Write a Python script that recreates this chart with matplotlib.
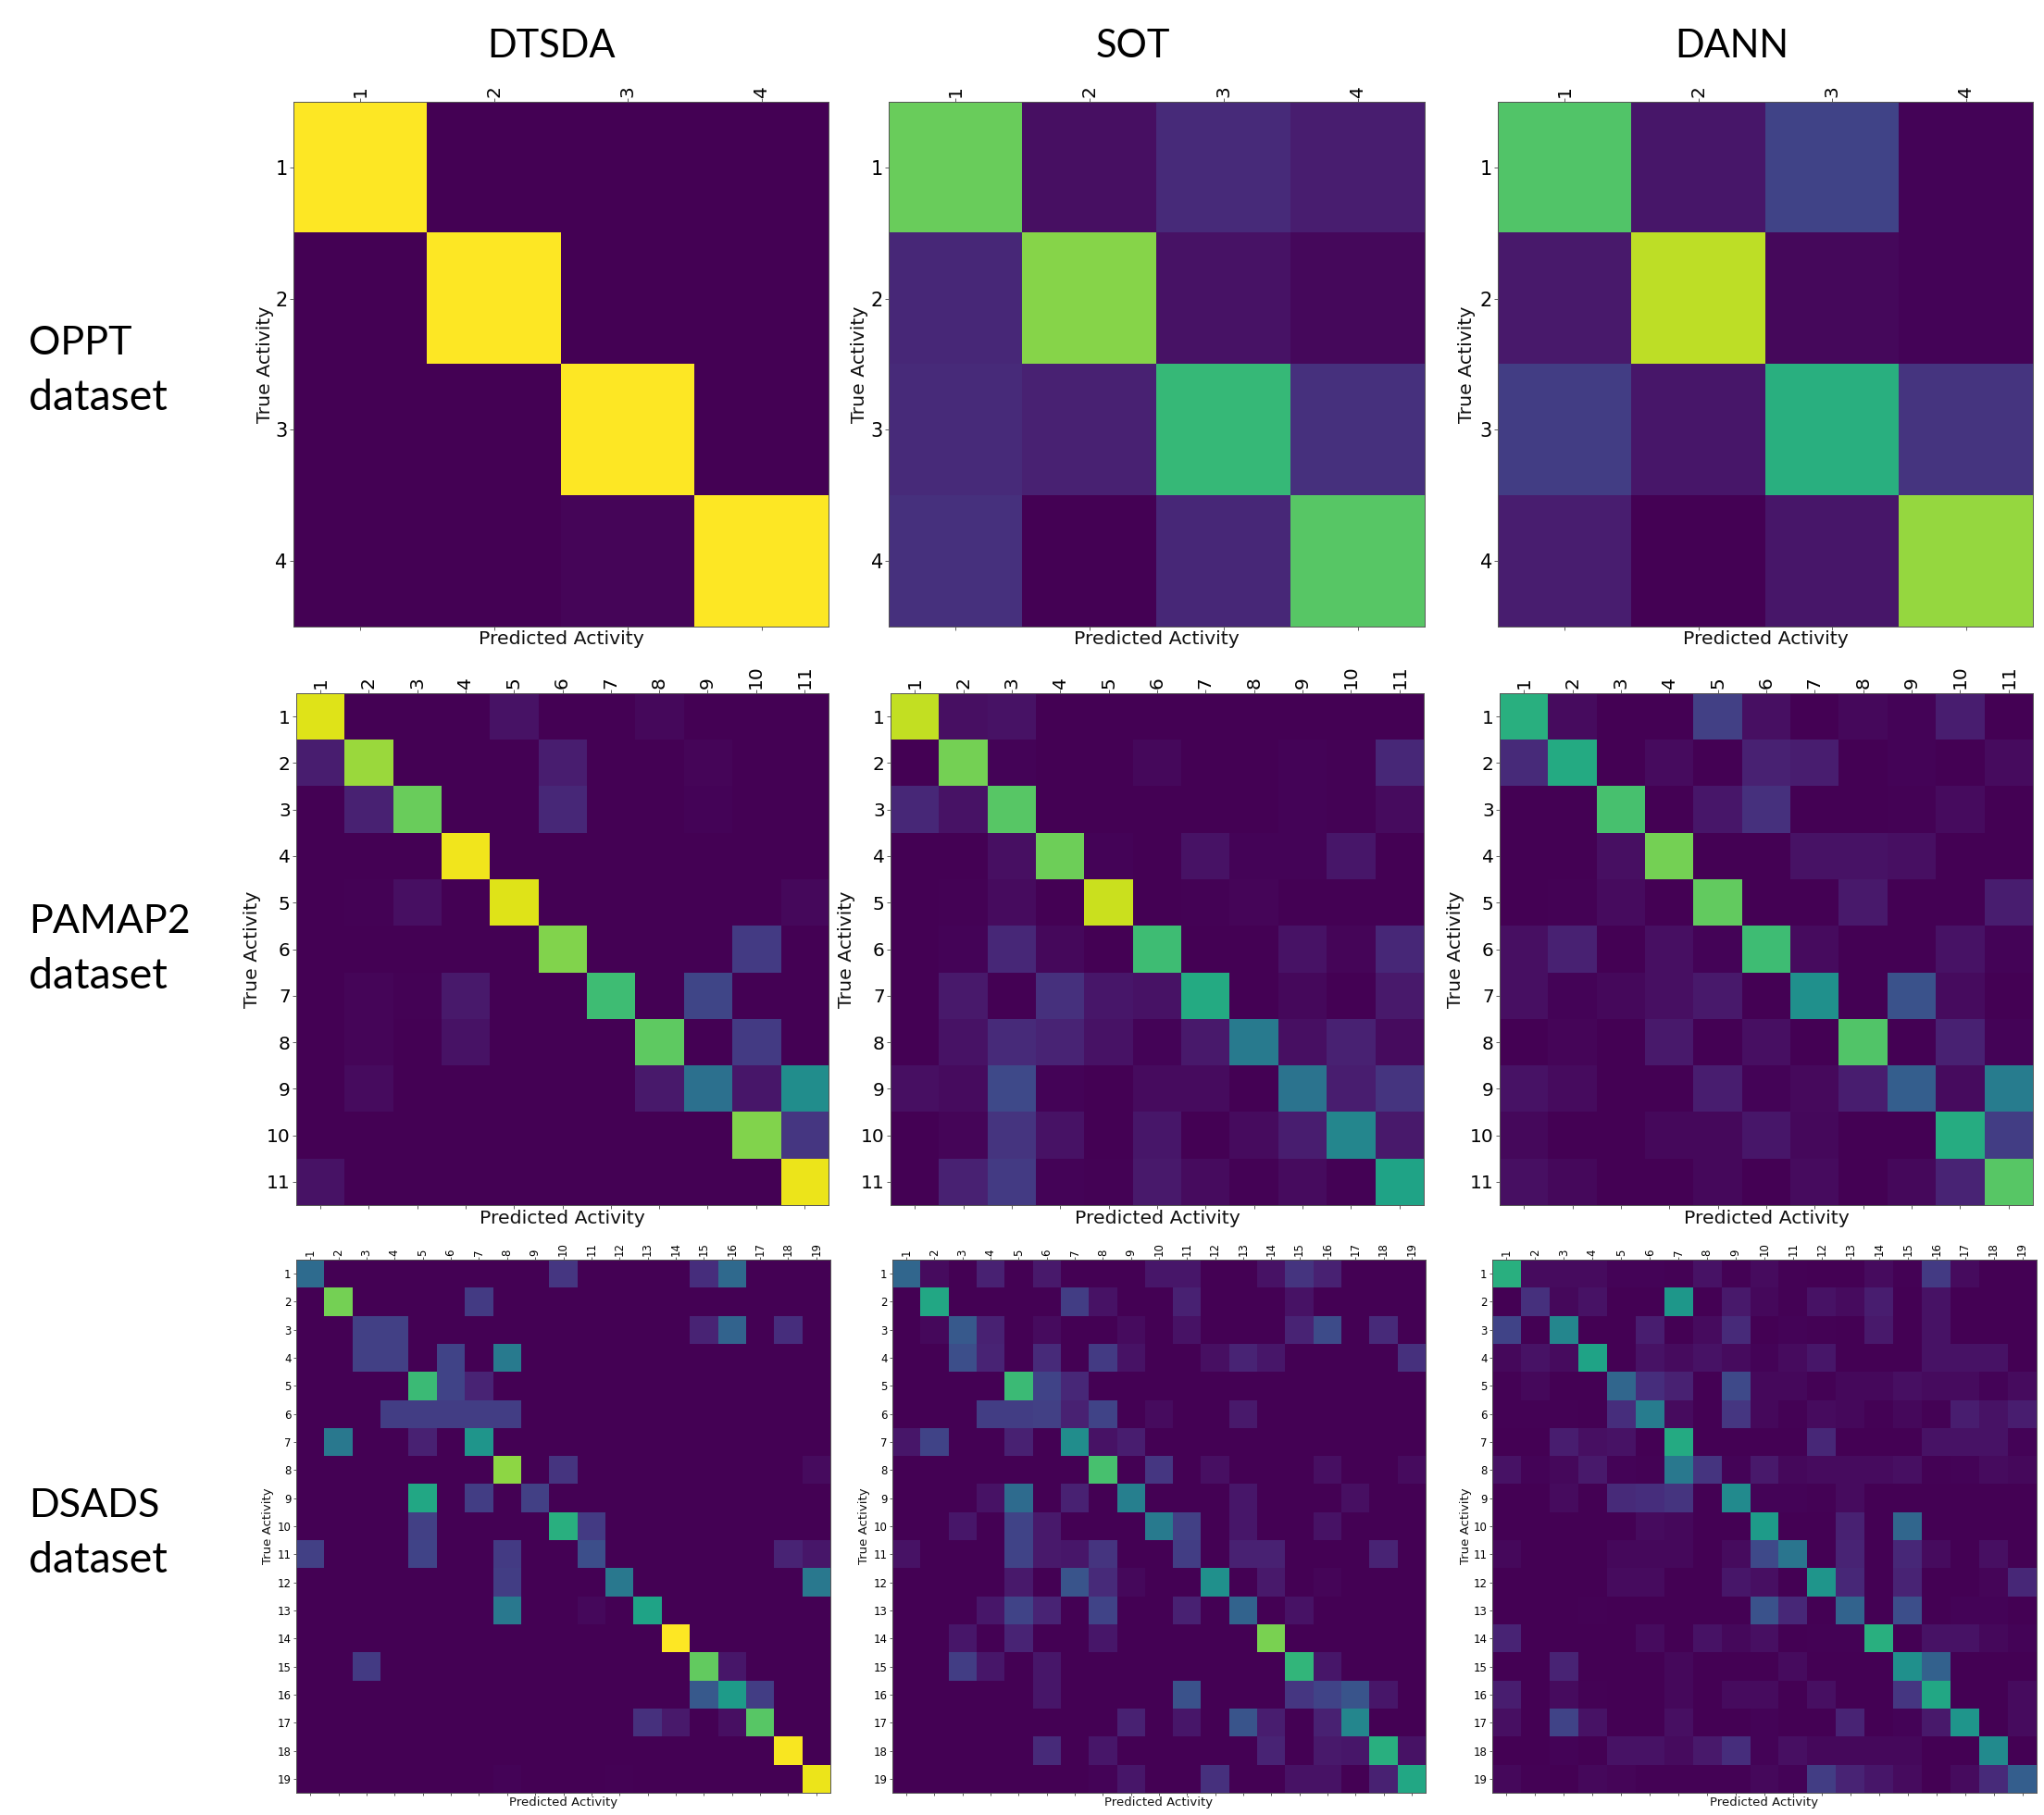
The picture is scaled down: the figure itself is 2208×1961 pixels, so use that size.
import matplotlib
matplotlib.use("Agg")
import matplotlib.pyplot as plt
import numpy as np

methods = ["DTSDA", "SOT", "DANN"]
datasets = ["OPPT\ndataset", "PAMAP2\ndataset", "DSADS\ndataset"]
x_label = "Predicted Activity"
y_label = "True Activity"

# values in percent, read by colour from the picture
oppt_dtsda = [[100, 0, 0, 0], [0, 100, 0, 0], [0, 0, 100, 0], [0, 0, 1.5, 100]]
oppt_sot = [[77, 4, 12, 8], [11, 82, 5, 2], [12, 9, 67, 14], [14, 0, 11, 74]]
oppt_dann = [[73, 6, 20, 1], [7, 90, 2, 1], [18, 6, 63, 15], [8, 0, 6, 84]]

pamap_dtsda = [
    [95, 0, 0, 0, 5, 0, 0, 2, 0, 0, 0],
    [8, 85, 0, 0, 0, 8, 0, 0, 1.5, 0, 0],
    [0, 9, 77, 0, 0, 11, 0, 0, 1, 0, 0],
    [0, 0, 0, 98, 0, 0, 0, 0.3, 0.3, 0, 0],
    [0, 0.5, 4, 0, 95, 0, 0, 0, 0, 0, 2],
    [0, 0, 0, 0, 0, 81, 0, 0, 0, 17, 0],
    [0, 1.5, 0.5, 7, 0, 0, 69, 0, 21, 0, 0],
    [0, 1.5, 0, 5, 0, 0, 0, 75, 0, 17, 0],
    [0, 3, 0, 0, 0, 0, 0, 7, 37, 6, 49],
    [0, 0, 0, 0, 0, 0, 0, 0, 0, 81, 16],
    [5, 0, 0, 0, 0, 0, 0, 0, 0, 0, 97],
]
pamap_sot = [
    [91, 4, 5, 0, 0, 0, 0, 0, 0, 0, 0],
    [0, 79, 1, 0, 0, 2, 0, 0, 1, 0.5, 11],
    [11, 5, 74, 0, 0, 0, 0, 0, 1, 0.5, 3],
    [0, 0, 4, 78, 1, 0, 5, 1, 1, 6, 0],
    [0, 0.5, 3, 0, 92, 0, 0.5, 1.5, 0, 0, 0],
    [0, 1, 11, 2, 0, 69, 0, 0, 5, 1.5, 11],
    [0, 7, 0, 14, 6, 5, 61, 0, 2, 0, 7],
    [0, 5, 12, 10, 5, 1, 7, 41, 4, 9, 3],
    [4, 3, 22, 1, 0, 3, 3, 0, 38, 8, 15],
    [0, 1.5, 15, 5, 0, 6, 0, 3, 8, 46, 7],
    [0, 9, 17, 1, 0.5, 7, 3, 0.5, 3, 0.5, 58],
]
pamap_dann = [
    [63, 3, 0, 0, 19, 4, 0, 2, 1, 8, 0],
    [12, 61, 0, 3, 0, 9, 8, 0, 1, 0, 3],
    [0, 0, 71, 0, 6, 14, 0, 0, 0.5, 3, 0],
    [0, 0, 4, 79, 0, 0, 5, 5, 4, 0, 0],
    [0, 0.5, 3, 0, 76, 0, 0, 7, 0, 0, 8],
    [4, 9, 0, 4, 1, 69, 3, 0, 0, 5, 1],
    [4, 1, 2, 4, 7, 0, 50, 0, 25, 3, 0],
    [0, 1.5, 0, 7, 0, 4, 0, 73, 0, 9, 1],
    [5, 3, 0, 0, 8, 1, 2.5, 8, 30, 3, 42],
    [2, 0, 0, 2, 2, 6, 2, 0, 0, 62, 18],
    [4, 2, 0, 0, 2, 0, 3, 0, 2, 10, 74],
]

dsads_dtsda = [
    [35, 0, 0, 0, 0, 0, 0, 0, 0, 16, 0, 0, 0, 0, 13, 34, 0, 0, 0],
    [0, 79, 0, 0, 0, 0, 17, 0, 0, 0, 0, 0, 0, 0, 0, 0, 0, 0, 0],
    [0, 0, 19, 19, 0, 0, 0, 0, 0, 0, 0, 0, 0, 0, 10, 32, 0, 13, 0],
    [0, 0, 19, 19, 0, 20, 0, 41, 0, 0, 0, 0, 0, 0, 0, 0, 0, 0, 0],
    [0, 0, 0, 0, 68, 20, 10, 0.3, 0, 0, 0, 0, 0, 0, 0, 0, 0, 0, 0],
    [0, 0, 0, 18, 18, 18, 18, 18, 0, 0, 0, 0, 0, 0, 0, 0, 0, 0, 0],
    [0, 40, 0, 0, 9, 0, 52, 0, 0, 0, 0, 0, 0, 0, 0, 0, 0, 0, 0],
    [0, 0, 0, 0, 0, 0, 0, 83, 0, 15, 0, 0, 0, 0, 0, 0, 0, 0, 3],
    [0, 0, 0, 0, 60, 0, 18, 0, 19, 0, 0, 0, 0, 0, 0, 0, 0, 0, 0],
    [0, 0, 0, 0, 19, 0, 0, 0, 0, 63, 17, 0, 0, 0, 0, 0, 0, 0, 0],
    [19, 0, 0, 0, 20, 0, 0, 17, 0, 0, 24, 0, 0, 0, 0, 0, 0, 10, 6],
    [0, 0, 0, 0, 0, 0, 0, 18, 0, 0, 0, 40, 0, 0, 0, 0, 0, 0, 40],
    [0, 0, 0, 0, 0, 0, 0, 40, 0, 0, 2, 0, 58, 0, 0, 0, 0, 0, 0],
    [0, 0, 0, 0, 0, 0, 0, 0, 0, 0, 0, 0, 0, 100, 0, 0, 0, 0, 0],
    [0, 0, 17, 0, 0, 0, 0, 0, 0, 0, 0, 0, 0, 0, 76, 6, 0, 0, 0],
    [0, 0, 0, 0, 0, 0, 0, 0, 0, 0, 0, 0, 0, 0, 28, 55, 18, 0, 0],
    [0, 0, 0, 0, 0, 0, 0, 0, 0, 0, 0, 0, 14, 7, 0, 4, 74, 0, 0],
    [0, 0, 0, 0, 0, 0, 0, 0, 0, 0, 0, 0, 0, 0, 0, 0, 0, 99, 0],
    [0, 0, 0, 0, 0, 0.3, 0, 1, 0.3, 0, 0, 0.5, 0, 0, 0, 0, 0, 0, 97],
]
dsads_sot = [
    [33, 3, 0, 9, 0, 7, 0, 0, 0, 6, 6, 0, 0, 5, 15, 9, 0, 0, 0],
    [0, 60, 0, 0, 0, 0, 18, 5, 0, 0, 9, 0, 0, 0, 5, 0, 0, 0, 0],
    [0, 2, 28, 9, 0, 3, 0, 0, 3, 0, 5, 0, 0, 0, 10, 23, 0, 12, 0],
    [0, 0, 24, 10, 0, 12, 0, 17, 5, 0, 0, 4, 10, 6, 0, 0, 0, 0, 14],
    [0, 0, 0, 0, 68, 20, 11, 0, 0, 0, 0, 0, 0, 0, 0, 0, 0, 0, 0],
    [0, 0, 0, 18, 18, 19, 9, 20, 0, 3, 0, 0, 7, 0, 0, 0, 0, 0, 0],
    [6, 20, 0, 0, 9, 0, 49, 5, 8, 0, 0, 0, 0, 0, 0, 0, 0, 0, 0],
    [0, 0, 0, 0, 0, 0, 0, 71, 0, 16, 0, 4, 0, 0, 0, 4, 0, 0, 3],
    [0, 0, 0, 5, 35, 0, 9, 0, 43, 0, 0, 0, 6, 0, 0, 0, 4, 0, 0],
    [0, 0, 6, 0, 20, 7, 0, 0, 0, 41, 19, 0, 6, 0, 0, 5, 0, 0, 0],
    [5, 0, 0, 0, 20, 7, 6, 15, 0, 0, 18, 0, 9, 9, 0, 0, 0, 10, 0],
    [0, 0, 0, 0, 7, 0, 26, 12, 2, 0, 0, 50, 0, 7, 0, 1.5, 0, 0, 0],
    [0, 0, 0, 6, 20, 10, 0, 20, 0, 0, 9, 0, 32, 0, 5, 0, 0, 0, 0],
    [0, 0, 6, 0, 10, 0, 0, 6, 0, 0, 0, 0, 0, 80, 0, 0, 0, 0, 0],
    [0, 0, 18, 6, 0, 6, 0, 0, 0, 0, 0, 0, 0, 0, 66, 6, 0, 0, 0],
    [0, 0, 0, 0, 0, 6, 0, 0, 0, 0, 25, 0, 0, 0, 16, 20, 26, 6, 0],
    [0, 0, 0, 0, 0, 0, 0, 0, 9, 0, 6, 0, 26, 8, 0, 9, 46, 0, 0],
    [0, 0, 0, 0, 0, 12, 0, 6, 0, 0, 0, 0, 0, 10, 0, 7, 6, 63, 5],
    [0, 0, 0, 0, 0, 0, 0, 1, 6, 0, 0, 14, 0, 0, 5, 5, 0, 9, 60],
]
dsads_dann = [
    [63, 3, 3, 3, 1, 1, 0.5, 5, 0.5, 3, 0.5, 0, 0, 3, 0.5, 17, 3, 0, 0],
    [0, 14, 2, 5, 0, 0, 53, 0, 7, 2, 0.5, 5, 3, 8, 0, 5, 0, 0, 0],
    [20, 0, 46, 0, 0, 8, 0, 3, 12, 0, 1, 0.5, 0, 7, 0, 5, 0, 0, 0],
    [2, 5, 3, 58, 0, 5, 3, 5, 3, 1, 3, 6, 0, 0, 0, 5, 5, 5, 0],
    [0.5, 2, 0, 0, 33, 13, 9, 0, 22, 2, 2, 0.5, 2, 2, 4, 3, 3, 1, 3],
    [0.5, 0.5, 0.5, 0, 13, 42, 3, 0, 16, 2, 0.5, 3, 2, 0.5, 2, 0.5, 8, 5, 8],
    [0, 0, 8, 4, 5, 0, 61, 0, 0, 0, 0, 11, 0, 0, 0, 5, 5, 5, 1],
    [5, 1, 2, 7, 1, 0.5, 40, 15, 1, 7, 2, 3, 3, 3, 4, 0.5, 1, 3, 2],
    [0, 0, 3, 0, 12, 13, 15, 0, 48, 1, 1, 0.5, 3, 0, 0, 0, 0, 0, 0],
    [0, 0, 0, 0, 0, 3, 2, 0, 0, 55, 0, 0, 9, 0, 33, 0, 0, 0, 0],
    [2, 0, 0, 0, 2, 2, 2, 0, 3, 22, 39, 0, 10, 0, 11, 3, 0, 4, 0],
    [0, 0, 0, 0, 3, 3, 0, 0, 6, 4, 0, 52, 11, 0, 10, 0, 0, 1.5, 11],
    [0, 0, 0, 0.5, 0, 0, 0, 0, 0, 25, 11, 0, 32, 0, 24, 0, 1, 1, 0],
    [10, 0, 0, 0, 0, 3, 0, 5, 2, 4, 0, 0.5, 0.5, 63, 0, 5, 5, 2, 1],
    [0, 0, 10, 0, 0, 0, 2, 0, 0, 0, 3, 0, 0, 0, 50, 31, 0, 0, 0],
    [8, 0, 3, 0.5, 0, 0, 2, 0, 3, 3, 0, 4, 0, 0, 16, 60, 0, 0, 3],
    [4, 0, 20, 5, 0, 0, 4, 0, 0, 1, 0, 0, 10, 0, 1, 7, 52, 0, 3],
    [0, 0, 1, 0, 5, 5, 3, 7, 13, 1, 4, 2, 2, 2, 2, 0, 0, 48, 0],
    [2, 0.5, 0, 2, 1.5, 0.5, 0.5, 0.5, 0.5, 2, 1, 18, 10, 6, 3, 0, 3, 12, 30],
]

rows = [
    [oppt_dtsda, oppt_sot, oppt_dann],
    [pamap_dtsda, pamap_sot, pamap_dann],
    [dsads_dtsda, dsads_sot, dsads_dann],
]

W, H = 2208, 1961
fig = plt.figure(figsize=(W / 100, H / 100), dpi=100, facecolor="white")


def box(l, t, r, b):
    return [l / W, 1 - b / H, (r - l) / W, (b - t) / H]


# panel extents in pixels (left, top, right, bottom)
extents = [
    [(317, 110, 895, 677), (960, 110, 1539, 677), (1618, 110, 2196, 677)],
    [(320, 749, 895, 1302), (962, 749, 1538, 1302), (1620, 749, 2196, 1302)],
    [(320, 1361, 897, 1937), (964, 1361, 1540, 1937), (1612, 1361, 2200, 1937)],
]
ylabel_x = [[286, 928, 1584], [273, 915, 1573], [290, 933, 1583]]
xlabel_y = [691, 1316, 1947]
tick_x = [14.5, 14.5, 8.5]
tick_y = [15, 14.5, 8.5]
label_fs = [14.7, 14.7, 9.5]

for i, row in enumerate(rows):
    for j, mat in enumerate(row):
        arr = np.array(mat, dtype=float)
        n = arr.shape[0]
        l, t, r, b = extents[i][j]
        ax = fig.add_axes(box(l, t, r, b))
        ax.imshow(arr, cmap="viridis", vmin=0, vmax=100, aspect="auto", interpolation="nearest")
        ticks = np.arange(n)
        labels = [str(k + 1) for k in range(n)]
        ax.set_xticks(ticks)
        ax.set_xticklabels(labels, rotation=90, fontsize=tick_x[i])
        ax.set_yticks(ticks)
        ax.set_yticklabels(labels, fontsize=tick_y[i])
        ax.tick_params(axis="x", top=True, bottom=True, labeltop=True, labelbottom=False,
                       length=3 if i < 2 else 2.5, width=0.6, pad=0.5, color="#444444")
        ax.tick_params(axis="y", length=3 if i < 2 else 2.5, width=0.6, pad=1.5, color="#444444")
        for s in ax.spines.values():
            s.set_linewidth(0.7)
            s.set_color("#555555")
        fig.text((l + r) / 2 / W, 1 - xlabel_y[i] / H, x_label, fontsize=label_fs[i],
                 ha="center", va="center", color="#111111")
        fig.text(ylabel_x[i][j] / W, 1 - (t + b) / 2 / H, y_label, fontsize=label_fs[i],
                 rotation=90, ha="center", va="center", color="#111111")

title_x = [596, 1224, 1871]
for name, x in zip(methods, title_x):
    fig.text(x / W, 1 - 62 / H, name, fontsize=30, family="Lato", ha="center", va="baseline", color="black")

row_baselines = [(383, 443), (1008, 1068), (1639, 1699)]
for name, (y0, y1) in zip(datasets, row_baselines):
    top, bottom = name.split("\n")
    fig.text(31 / W, 1 - y0 / H, top, fontsize=31, family="Lato", ha="left", va="baseline", color="black")
    fig.text(31 / W, 1 - y1 / H, bottom, fontsize=33.5, family="Lato", ha="left", va="baseline", color="black")

fig.savefig("out.png", dpi=100, facecolor="white")
